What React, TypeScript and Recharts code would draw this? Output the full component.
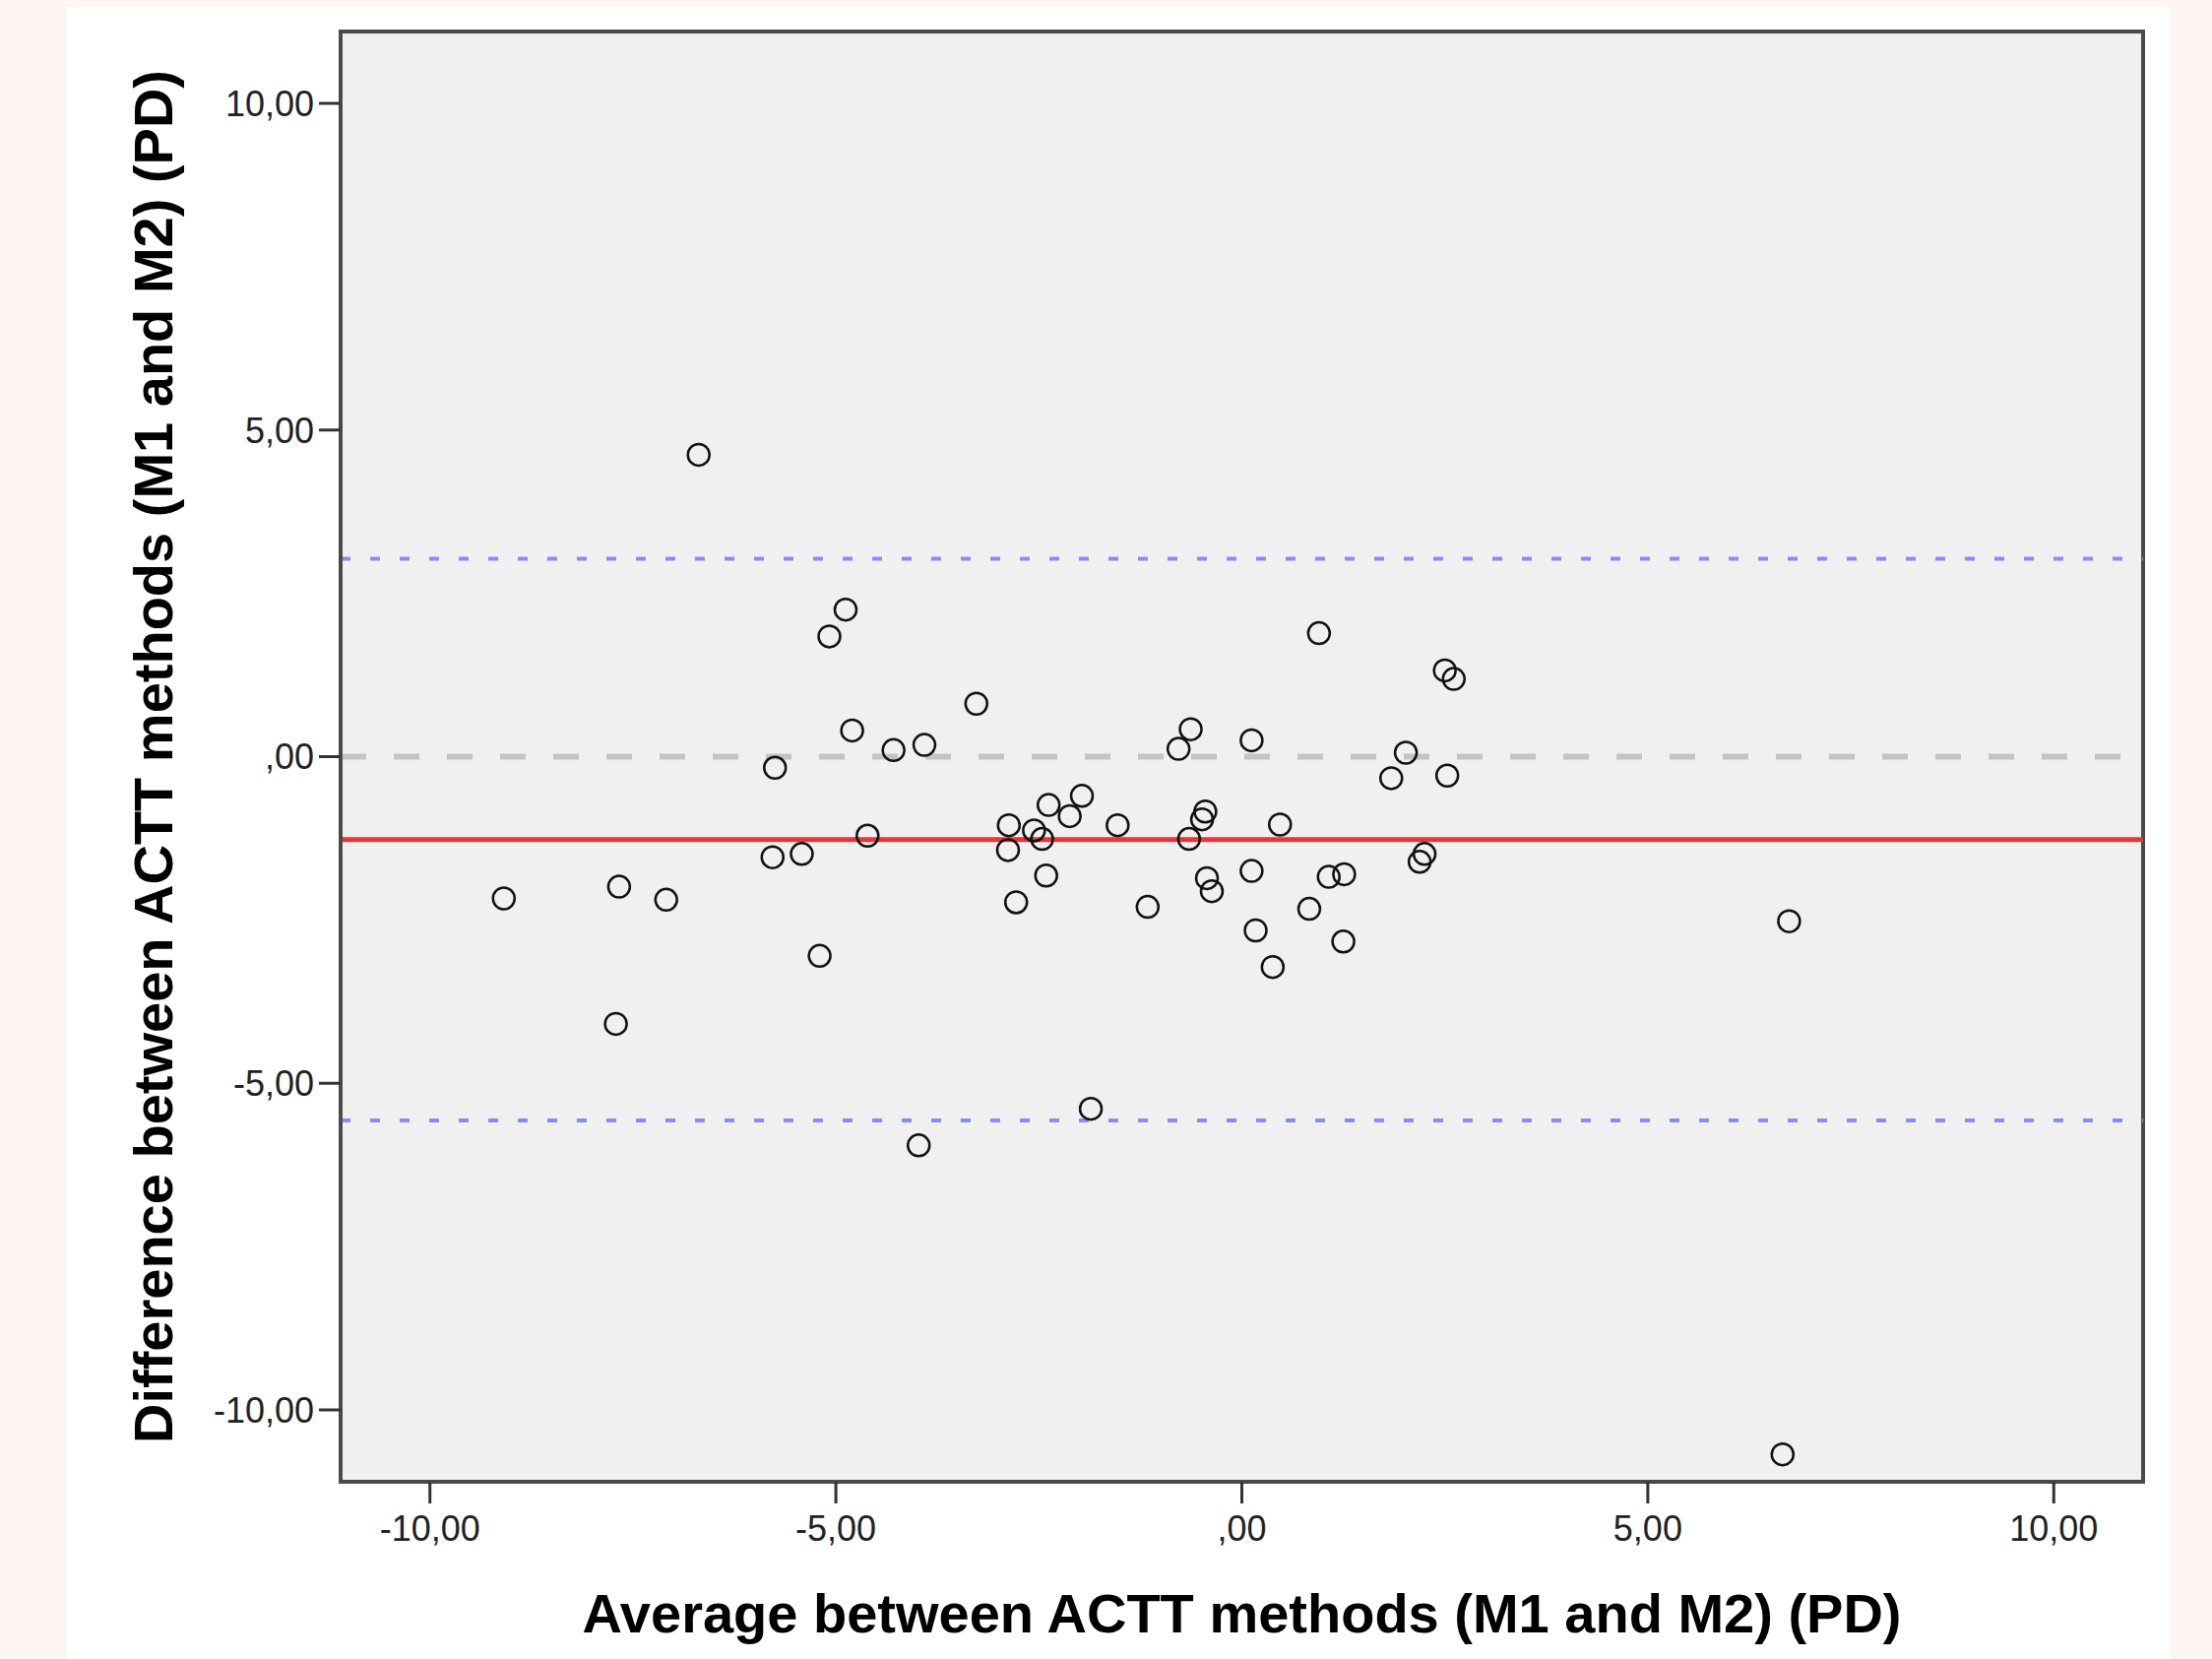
import {
  CartesianGrid,
  Label,
  ReferenceArea,
  ReferenceLine,
  Scatter,
  ScatterChart,
  XAxis,
  YAxis,
} from "recharts";

// Bland-Altman: average vs difference between ACTT methods (PD)
const averages = [
  -6.69, -4.88, -5.08, 0.95, 2.5, 2.61, -3.27, -4.8, -4.29, -3.91, -0.63, -0.78,
  0.12, 2.02, -5.75, 1.84, 2.53, -1.97, -2.38, -2.12, -1.53, -2.87, -2.56, -2.46,
  -2.88, -0.45, -0.49, -0.65, 0.47, -4.61, -5.42, -5.78, -2.41, -2.78, -0.43,
  -0.37, 0.12, 1.07, 1.26, 2.19, 2.25, -1.16, 0.83, 0.17, 1.25, 0.38, -9.09,
  -7.67, -7.09, -5.2, -7.71, -1.86, -3.98, 6.74, 6.66,
];
const differences = [
  4.62, 2.25, 1.84, 1.89, 1.32, 1.19, 0.81, 0.4, 0.1, 0.18, 0.42, 0.12, 0.25,
  0.06, -0.17, -0.33, -0.29, -0.6, -0.74, -0.91, -1.05, -1.05, -1.13, -1.26,
  -1.43, -0.84, -0.96, -1.26, -1.04, -1.21, -1.49, -1.54, -1.82, -2.23, -1.86,
  -2.06, -1.75, -1.84, -1.8, -1.61, -1.49, -2.3, -2.33, -2.66, -2.83, -3.22,
  -2.17, -1.99, -2.19, -3.05, -4.09, -5.39, -5.95, -2.52, -10.68,
];

const meanDiff = -1.27;
const upperLimit = 3.03;
const lowerLimit = -5.57;

const ticks = [-10, -5, 0, 5, 10];
const tickLabels = ["-10,00", "-5,00", ",00", "5,00", "10,00"];

const points = averages.map((x, i) => ({ x, y: differences[i] }));

const fmt = (v: number) => tickLabels[ticks.indexOf(v)] ?? String(v);

const Ring = (props: any) => (
  <circle
    cx={props.cx}
    cy={props.cy}
    r={11}
    fill="none"
    stroke="#111"
    strokeWidth={2.5}
  />
);

const tickStyle = {
  fontSize: 36,
  fill: "#222",
  fontFamily: "'Liberation Sans', Arial, sans-serif",
};
const titleStyle = {
  fontSize: 56,
  fontWeight: 700,
  fill: "#000",
  fontFamily: "'Liberation Sans', Arial, sans-serif",
};

export default function App() {
  return (
    <div
      style={{
        position: "absolute",
        left: 0,
        top: 0,
        width: 2247,
        height: 1685,
        background: "#fef5f3",
      }}
    >
      <div
        style={{
          position: "absolute",
          left: 67,
          top: 7,
          width: 2138,
          height: 1678,
          background: "#fff",
        }}
      />
      <div style={{ position: "absolute", left: 0, top: 0 }}>
        <ScatterChart
          width={2247}
          height={1685}
          margin={{ top: 32, right: 70, bottom: 0, left: 0 }}
        >
          <CartesianGrid
            horizontal={false}
            vertical={false}
            fill="#f0f0f0"
            stroke="none"
          />
          <XAxis
            type="number"
            dataKey="x"
            domain={[-11.1, 11.1]}
            ticks={ticks}
            tickFormatter={fmt}
            height={180}
            tickSize={22}
            tickMargin={12}
            tick={tickStyle}
            axisLine={{ stroke: "#4a4a4a", strokeWidth: 4 }}
            tickLine={{ stroke: "#333", strokeWidth: 3 }}
          >
            <Label
              value="Average between ACTT methods (M1 and M2) (PD)"
              position="insideBottom"
              offset={27}
              style={titleStyle}
            />
          </XAxis>
          <YAxis
            type="number"
            dataKey="y"
            domain={[-11.1, 11.1]}
            ticks={ticks}
            tickFormatter={fmt}
            width={346}
            tickSize={22}
            tickMargin={5}
            tick={tickStyle}
            axisLine={{ stroke: "#4a4a4a", strokeWidth: 4 }}
            tickLine={{ stroke: "#333", strokeWidth: 3 }}
          >
            <Label
              value="Difference between ACTT methods (M1 and M2) (PD)"
              angle={-90}
              position="insideLeft"
              offset={155}
              style={{ ...titleStyle, textAnchor: "middle" }}
            />
          </YAxis>
          <ReferenceArea
            x1={-11.1}
            x2={11.1}
            y1={-11.1}
            y2={11.1}
            fill="none"
            stroke="#4a4a4a"
            strokeWidth={4}
          />
          <ReferenceLine
            y={upperLimit}
            stroke="#8a8aff"
            strokeWidth={4}
            strokeDasharray="10 20"
          />
          <ReferenceLine
            y={lowerLimit}
            stroke="#8a8aff"
            strokeWidth={4}
            strokeDasharray="10 20"
          />
          <ReferenceLine
            y={0}
            stroke="#c4c4c4"
            strokeWidth={6}
            strokeDasharray="26 28"
          />
          <ReferenceLine y={meanDiff} stroke="#e8343c" strokeWidth={5} />
          <Scatter data={points} shape={Ring} isAnimationActive={false} />
        </ScatterChart>
      </div>
    </div>
  );
}
